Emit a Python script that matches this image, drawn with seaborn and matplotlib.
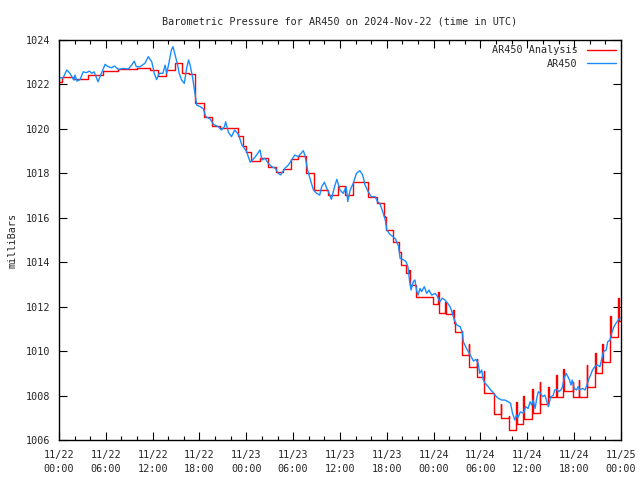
import numpy as np
import pandas as pd
import matplotlib
matplotlib.use('Agg')
import matplotlib.pyplot as plt
import matplotlib.dates as mdates
import seaborn as sns

START = pd.Timestamp('2024-11-22 00:00')
END = pd.Timestamp('2024-11-25 00:00')

# --- AR450 observations (blue), hours since 11/22 00:00 UTC ---
blue_hours = [0.0, 0.5, 1.0, 1.4, 1.9, 2.05, 2.3, 2.7, 3.1, 3.5, 3.9, 4.2, 4.5, 5.0, 5.25, 5.7, 5.9,
              6.3, 6.75, 7.1, 7.6, 8.2, 8.9, 9.3, 9.65, 9.9, 10.4, 11.0, 11.45, 11.9, 12.2, 12.5,
              12.85, 13.3, 13.6, 13.8, 14.1, 14.4, 14.6, 14.9, 15.15, 15.4, 15.7, 16.05, 16.35,
              16.6, 16.8, 17.1, 17.35, 17.65, 18.1, 18.5, 18.8, 19.35, 19.8, 20.4, 20.8, 21.2,
              21.35, 21.7, 22.1, 22.5, 23.0, 23.4, 24.0, 24.5, 24.8, 25.3, 25.75, 26.0, 26.4,
              26.8, 27.25, 27.7, 28.1, 28.4, 28.95, 29.4, 29.8, 30.2, 30.65, 31.3, 31.5, 31.85,
              32.15, 32.6, 33.0, 33.4, 33.65, 34.0, 34.3, 34.6, 34.9, 35.3, 35.6, 36.0, 36.4,
              36.8, 37.0, 37.3, 37.7, 38.1, 38.55, 38.9, 39.2, 39.6, 40.0, 40.5, 40.8, 41.1,
              41.4, 41.8, 42.0, 42.4, 42.8, 43.1, 43.5, 43.7, 44.1, 44.45, 44.7, 44.9, 45.1,
              45.4, 45.6, 45.8, 46.0, 46.25, 46.45, 46.8, 47.1, 47.4, 47.75, 48.2, 48.5, 48.8,
              49.1, 49.45, 49.8, 50.1, 50.4, 50.65, 50.95, 51.4, 51.7, 51.8, 52.2, 52.65, 53.1,
              53.4, 53.7, 53.9, 54.15, 54.35, 54.6, 54.8, 55.0, 55.3, 55.55, 55.85, 56.3, 56.7,
              57.1, 57.55, 57.85, 58.1, 58.4, 58.6, 58.8, 59.1, 59.5, 59.8, 60.1, 60.35, 60.55,
              60.75, 61.0, 61.2, 61.4, 61.7, 61.95, 62.25, 62.7, 63.0, 63.3, 63.5, 63.8, 64.0,
              64.3, 64.5, 64.7, 64.95, 65.2, 65.4, 65.6, 65.75, 66.0, 66.3, 66.5, 66.7, 67.1,
              67.4, 67.7, 67.9, 68.1, 68.35, 68.65, 68.95, 69.3, 69.5, 69.75, 70.1, 70.3, 70.6,
              70.8, 71.1, 71.35, 71.65, 71.9]
blue_mb = [1022.32, 1022.28, 1022.65, 1022.5, 1022.2, 1022.42, 1022.15, 1022.22, 1022.57, 1022.53,
           1022.6, 1022.5, 1022.57, 1022.12, 1022.35, 1022.72, 1022.9, 1022.8, 1022.75, 1022.83,
           1022.68, 1022.72, 1022.7, 1022.87, 1023.05, 1022.8, 1022.8, 1022.95, 1023.25, 1023.0,
           1022.5, 1022.22, 1022.5, 1022.5, 1022.87, 1022.5, 1023.0, 1023.55, 1023.7, 1023.3,
           1022.95, 1022.5, 1022.2, 1022.05, 1022.72, 1023.1, 1022.87, 1022.35, 1021.75, 1021.07,
           1021.0, 1020.9, 1020.55, 1020.45, 1020.2, 1020.1, 1019.95, 1020.1, 1020.32, 1019.85,
           1019.65, 1019.95, 1019.75, 1019.3, 1019.0, 1018.5, 1018.6, 1018.82, 1019.05, 1018.6,
           1018.68, 1018.45, 1018.3, 1018.23, 1018.0, 1017.93, 1018.23, 1018.38, 1018.6, 1018.82,
           1018.75, 1019.02, 1018.82, 1018.15, 1017.77, 1017.25, 1017.1, 1017.02, 1017.4, 1017.6,
           1017.33, 1017.1, 1016.83, 1017.4, 1017.73, 1017.25, 1017.1, 1017.4, 1016.73, 1017.25,
           1017.55, 1018.0, 1018.12, 1017.93, 1017.48, 1017.18, 1016.95, 1016.95, 1016.73, 1016.65,
           1016.35, 1015.9, 1015.45, 1015.25, 1015.15, 1015.05, 1014.72, 1014.17, 1014.12, 1014.03,
           1013.8, 1013.2, 1012.75, 1013.13, 1013.2, 1012.75, 1012.52, 1012.82, 1012.68, 1012.9,
           1012.6, 1012.75, 1012.52, 1012.6, 1012.45, 1012.22, 1012.38, 1012.3, 1012.15, 1012.0,
           1011.7, 1011.4, 1011.18, 1011.1, 1010.8, 1010.42, 1010.12, 1009.85, 1009.55, 1009.63,
           1009.45, 1009.0, 1009.15, 1008.7, 1008.55, 1008.47, 1008.4, 1008.25, 1008.17, 1008.02,
           1007.87, 1007.8, 1007.8, 1007.72, 1007.65, 1007.2, 1006.9, 1007.12, 1007.0, 1007.27,
           1007.2, 1007.5, 1007.42, 1007.72, 1007.57, 1007.8, 1007.42, 1007.87, 1008.17, 1008.1,
           1007.95, 1008.02, 1007.5, 1007.95, 1008.0, 1008.25, 1008.28, 1008.17, 1008.25, 1008.4,
           1008.77, 1009.0, 1008.85, 1008.7, 1008.47, 1008.7, 1008.32, 1008.25, 1008.4, 1008.25,
           1008.32, 1008.25, 1008.55, 1008.77, 1008.92, 1009.15, 1009.3, 1009.38, 1009.3, 1009.6,
           1009.97, 1010.05, 1010.42, 1010.5, 1010.8, 1011.1, 1011.25, 1011.4, 1011.5]

# --- AR450 Analysis (red): step changes, with short spike at the change ---
red_hours = [0.0, 0.35, 1.8, 3.7, 5.6, 7.6, 10.0, 11.7, 12.7, 13.7, 14.8, 15.7, 16.7, 17.4, 18.6,
             19.6, 20.6, 22.9, 23.6, 24.0, 24.6, 25.7, 26.8, 27.8, 28.7, 29.7, 30.6, 31.7, 32.7,
             34.5, 35.7, 36.7, 37.7, 39.6, 40.8, 41.7, 41.9, 42.8, 43.5, 43.8, 44.5, 44.9, 45.7,
             47.9, 48.6, 49.5, 50.5, 50.75, 51.6, 52.5, 53.5, 54.4, 55.7, 56.6, 57.6, 58.6, 59.5,
             60.6, 61.6, 62.7, 63.7, 64.6, 65.8, 66.6, 67.6, 68.7, 69.6, 70.6, 71.6]
red_mb = [1022.12, 1022.35, 1022.24, 1022.42, 1022.6, 1022.68, 1022.72, 1022.65, 1022.38, 1022.65,
          1022.95, 1022.53, 1022.47, 1021.15, 1020.52, 1020.12, 1020.05, 1019.68, 1019.23, 1018.97,
          1018.55, 1018.7, 1018.3, 1018.05, 1018.18, 1018.63, 1018.78, 1018.0, 1017.25, 1017.02,
          1017.43, 1017.02, 1017.6, 1016.95, 1016.68, 1016.05, 1015.45, 1014.9, 1014.47, 1013.87,
          1013.5, 1012.97, 1012.45, 1012.12, 1011.73, 1011.65, 1011.25, 1010.87, 1009.82, 1009.3,
          1008.85, 1008.13, 1007.15, 1006.97, 1006.45, 1006.72, 1006.93, 1007.2, 1007.6, 1007.95,
          1007.92, 1008.2, 1007.95, 1007.92, 1008.4, 1009.0, 1009.52, 1010.65, 1011.35]
nan = np.nan
red_spike = [nan, nan, nan, nan, nan, nan, nan, nan, nan, nan, nan, nan, nan, nan, nan,
             nan, nan, nan, nan, nan, nan, nan, nan, nan, nan, nan, nan, nan, nan,
             nan, nan, nan, nan, nan, nan, 1016.08, nan, nan, nan, nan, nan, 1013.65, nan,
             nan, 1012.65, 1012.2, 1011.85, nan, 1010.9, 1010.32, 1009.63, 1009.1, nan, 1007.6,
             1007.1, 1007.72, 1008.0, 1008.28, 1008.62, 1008.4, 1008.92, 1009.2, 1008.6, 1008.7,
             1009.38, 1009.9, 1010.3, 1011.6, 1012.4]

# red step series: spike value briefly, then the new level
rt, rv = [], []
for h, v, s in zip(red_hours, red_mb, red_spike):
    if not np.isnan(s):
        rt.append(h); rv.append(s)
        rt.append(h + 0.08); rv.append(v)
    else:
        rt.append(h); rv.append(v)
rt.append(72.0); rv.append(red_mb[-1])

df_red = pd.DataFrame({'time': START + pd.to_timedelta(rt, unit='h'), 'mb': rv})
df_blue = pd.DataFrame({'time': START + pd.to_timedelta(blue_hours, unit='h'), 'mb': blue_mb})

sns.set_style('ticks')
plt.rcParams['font.family'] = ['DejaVu Sans Mono']
plt.rcParams['font.size'] = 7.3

fig = plt.figure(figsize=(6.4, 4.8), dpi=100)
ax = fig.add_axes([59/640, 40/480, 562/640, 400/480])

sns.lineplot(data=df_red, x='time', y='mb', ax=ax, color='#ff0000', linewidth=1.0,
             drawstyle='steps-post', estimator=None, sort=False, label='AR450 Analysis')
sns.lineplot(data=df_blue, x='time', y='mb', ax=ax, color='#1a8cff', linewidth=1.0,
             estimator=None, sort=False, label='AR450')

ax.set_xlim(START, END)
ax.set_ylim(1006, 1024)
ax.set_yticks(np.arange(1006, 1025, 2))
ax.xaxis.set_major_locator(mdates.HourLocator(byhour=[0, 6, 12, 18]))
ax.xaxis.set_minor_locator(mdates.HourLocator(byhour=range(0, 24, 2)))
ax.xaxis.set_major_formatter(mdates.DateFormatter('%m/%d\n%H:%M'))

ax.tick_params(which='both', direction='in', top=True, right=True, color='black')
ax.tick_params(which='major', length=6, width=0.8)
ax.tick_params(which='minor', length=3, width=0.8)
ax.tick_params(axis='x', which='major', pad=7)
ax.tick_params(axis='y', which='major', pad=6)
for t in ax.get_xticklabels():
    t.set_linespacing(1.55)
for sp in ax.spines.values():
    sp.set_color('black')
    sp.set_linewidth(1.0)

ax.set_xlabel('')
ax.set_ylabel('milliBars', labelpad=6)
ax.set_title('Barometric Pressure for AR450 on 2024-Nov-22 (time in UTC)', pad=11, fontsize=7.3)

leg = ax.legend(loc='upper right', frameon=False, markerfirst=False, handlelength=2.9,
                handletextpad=0.9, labelspacing=0.35, borderaxespad=0.3, borderpad=0.2)

fig.savefig('out.png', dpi=100)
